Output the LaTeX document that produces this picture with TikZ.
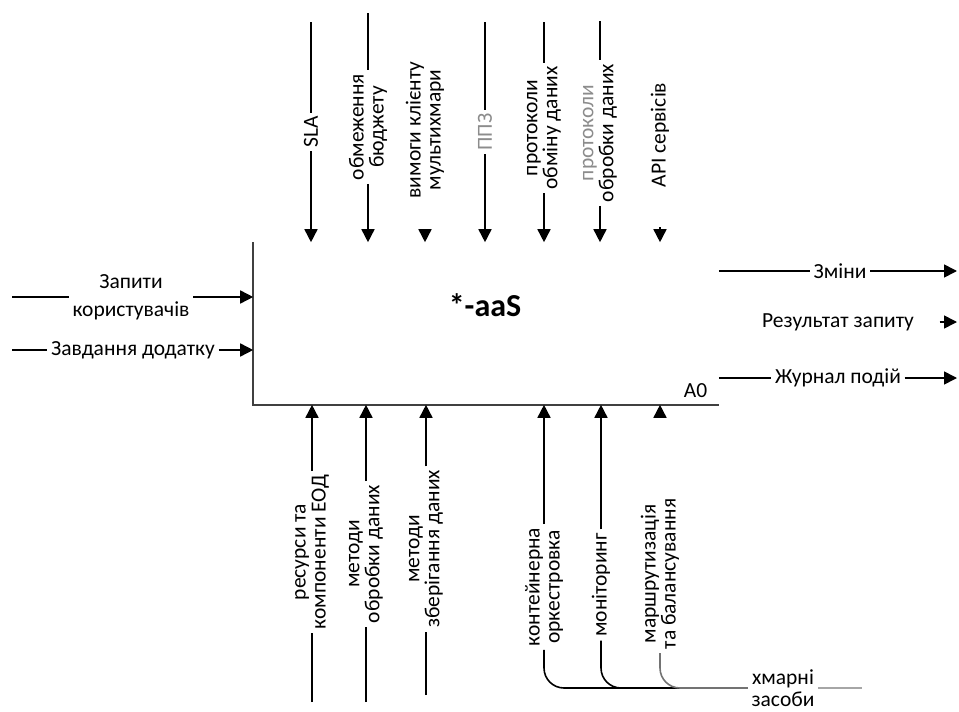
\documentclass[tikz,border=0pt]{standalone}
\usepackage{fontspec}
\setmainfont{Carlito}
\usetikzlibrary{positioning, shapes, arrows.meta}

\begin{document}
\begin{tikzpicture}[x=1pt, y=-1pt, line width=1.6pt,
  font=\fontsize{21.5}{28}\selectfont,
  >={Triangle[length=13pt, width=13pt]},
  lbl/.style={inner sep=3pt, align=center},
  vlbl/.style={lbl, rotate=90, font=\fontsize{21.5}{20}\selectfont}]
  \useasboundingbox (0,0) rectangle (959,712);

  % function box A0
  \node (box) [minimum width=464pt, minimum height=161pt, inner sep=0pt] at (486,323.5) {};
  \draw[line width=2.4pt, black!75] (box.north west) -- (box.south west) -- (box.south east);
  \node (name) [font=\bfseries\fontsize{32}{36}\selectfont] at (485,305) {*-aaS};
  \node (num) [anchor=base east, inner sep=0pt] at (708,397) {A0};

  % controls
  \node (sla) [vlbl] at (311,132) {SLA};
  \node (budget) [vlbl] at (368,127) {обмеження\\бюджету};
  \node (req) [vlbl] at (425,130) {вимоги клієнту\\мультихмари};
  \node (ppz) [vlbl, text=black!45] at (485,132) {ППЗ};
  \node (xchg) [vlbl] at (544,128) {протоколи\\обміну даних};
  \node (proc) [vlbl] at (600,133) {{\color{black!45}протоколи}\\обробки даних};
  \node (api) [vlbl] at (660,135) {API сервісів};

  \coordinate (c1) at (311,22);
  \coordinate (c2) at (368,13);
  \coordinate (c4) at (485,22);
  \coordinate (c5) at (544,22);
  \coordinate (c6) at (600,21);

  \draw (c1) -- (sla.east);
  \draw (c2) -- (budget.east);
  \draw (c4) -- (ppz.east);
  \draw (c5) -- (xchg.east);
  \draw (c6) -- (proc.east);
  \draw[->] (sla.west) -- (sla.west |- box.north);
  \draw[->] (budget.west) -- (budget.west |- box.north);
  \draw[->, shorten <=30pt] (req.west) -- (req.west |- box.north);
  \draw[->] (ppz.west) -- (ppz.west |- box.north);
  \draw[->] (xchg.west) -- (xchg.west |- box.north);
  \draw[->] (proc.west) -- (proc.west |- box.north);
  \draw[->, shorten <=36pt] (api.west) -- (api.west |- box.north);

  % inputs
  \node (usr) [lbl] at (131,297) {Запити\\користувачів};
  \node (task) [lbl] at (133,350) {Завдання додатку};
  \coordinate (i1) at (12,297);
  \coordinate (i2) at (12,350);
  \draw (i1) -- (usr.west);
  \draw (i2) -- (task.west);
  \draw[->] (usr.east) -- (usr.east -| box.west);
  \draw[->] (task.east) -- (task.east -| box.west);

  % outputs
  \node (chg) [lbl] at (840,271) {Зміни};
  \node (res) [lbl] at (838,322) {Результат запиту};
  \node (log) [lbl] at (838,378) {Журнал подій};
  \coordinate (o1) at (957,271);
  \coordinate (o2) at (957,322);
  \coordinate (o3) at (957,378);
  \draw (chg -| box.east) -- (chg.west);
  \draw (log -| box.east) -- (log.west);
  \draw[->] (chg.east) -- (o1);
  \draw[->, shorten <=22pt] (res.east) -- (o2);
  \draw[->] (log.east) -- (o3);

  % mechanisms
  \node (eod) [vlbl] at (312,552) {ресурси та\\компоненти ЕОД};
  \node (mproc) [vlbl] at (366,554) {методи\\обробки даних};
  \node (mstore) [vlbl] at (426,549) {методи\\зберігання даних};
  \node (orch) [vlbl] at (544,587) {контейнерна\\оркестровка};
  \node (mon) [vlbl] at (601,585) {моніторинг};
  \node (route) [vlbl] at (660,574) {маршрутизація\\та балансування};
  \node (cloud) [lbl, font=\fontsize{21.5}{22}\selectfont] at (783,688) {хмарні\\засоби};

  \coordinate (m1) at (312,702);
  \coordinate (m2) at (366,702);
  \coordinate (m3) at (426,695);
  \coordinate (cend) at (862,688);

  \draw (m1) -- (eod.west);
  \draw (m2) -- (mproc.west);
  \draw (m3) -- (mstore.west);
  \draw[->] (eod.east) -- (eod.east |- box.south);
  \draw[->] (mproc.east) -- (mproc.east |- box.south);
  \draw[->] (mstore.east) -- (mstore.east |- box.south);
  \draw[->] (orch.east) -- (orch.east |- box.south);
  \draw[->] (mon.east) -- (mon.east |- box.south);
  \draw[->, shorten <=78pt] (route.east) -- (route.east |- box.south);

  \draw[rounded corners=20pt] (orch.west) |- (cloud.west);
  \draw[rounded corners=20pt] (mon.west) |- (cloud.west);
  \draw[rounded corners=20pt, black!55] (route.west) |- (cloud.west);
  \draw[black!35] (cloud.east) -- (cend);
\end{tikzpicture}
\end{document}
